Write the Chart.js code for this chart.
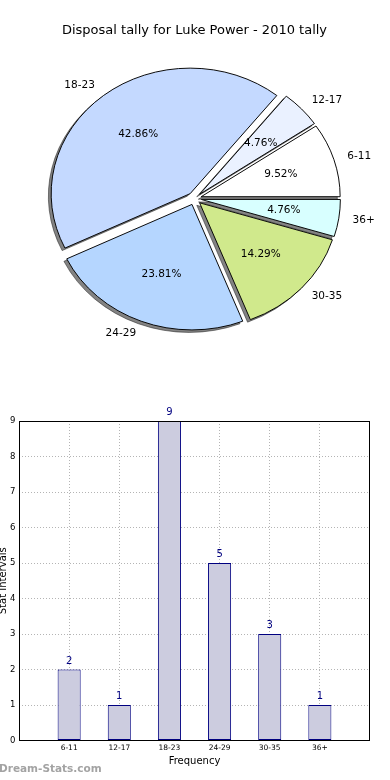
<!DOCTYPE html>
<html>
<head>
<meta charset="utf-8">
<title>Disposal tally for Luke Power - 2010 tally</title>
<script src="https://cdn.jsdelivr.net/npm/chart.js@4.4.1/dist/chart.umd.min.js"></script>
<style>
  html, body { margin: 0; padding: 0; background: #fff; }
  body { width: 390px; height: 780px; position: relative; overflow: hidden; }
  #pieWrap { position: absolute; left: 0; top: 0; width: 390px; height: 390px; }
  #barWrap { position: absolute; left: 0; top: 390px; width: 390px; height: 390px; }
  #mark { position: absolute; left: -1px; top: 762px; font: bold 10.5px "DejaVu Sans", sans-serif; color: #a3a3a3; }
</style>
</head>
<body>
<div id="pieWrap"><canvas id="pieChart" width="390" height="390"></canvas></div>
<div id="barWrap"><canvas id="barChart" width="390" height="390"></canvas></div>
<div id="mark">Dream-Stats.com</div>
<script>
// age groups and how many games fell in each
const categories = ['6-11', '12-17', '18-23', '24-29', '30-35', '36+'];
const tally = [2, 1, 9, 5, 3, 1];
const yTicks = [0, 1, 2, 3, 4, 5, 6, 7, 8, 9];

const sliceColors = ['#ffffff', '#eaf1ff', '#c4d9ff', '#b5d6ff', '#d0e98c', '#d8ffff'];

Chart.defaults.font.family = '"DejaVu Sans", sans-serif';
Chart.defaults.color = '#000';

const ELLIPSE = 0.903;  // pie was squashed, axes not equal
const EXPLODE = 0.05;   // every wedge pulled out by 5% of radius
const total = tally.reduce((a, b) => a + b, 0);

// matplotlib goes anticlockwise from east, chart.js clockwise -> reverse
const pieLabels = categories.slice().reverse();
const pieValues = tally.slice().reverse();
const pieColors = sliceColors.slice().reverse();

function wedgeTransform(ctx, arc) {
    const mid = (arc.startAngle + arc.endAngle) / 2;
    const d = arc.outerRadius * EXPLODE;
    ctx.translate(arc.x, arc.y);
    ctx.scale(1, ELLIPSE);
    ctx.translate(-arc.x, -arc.y);
    ctx.translate(Math.cos(mid) * d, Math.sin(mid) * d);
}

const piePlugin = {
    id: 'mplPie',
    beforeDatasetDraw(chart, args) {
        const ctx = chart.ctx;
        args.meta.data.forEach(arc => {
            ctx.save();
            wedgeTransform(ctx, arc);
            // shadow pass: wedge drawn far away, only its shadow lands here
            ctx.save();
            ctx.shadowColor = 'rgba(30,30,30,0.55)';
            ctx.shadowBlur = 0;
            ctx.shadowOffsetX = 20000 - 2.8;
            ctx.shadowOffsetY = 2.5;
            ctx.translate(-20000, 0);
            arc.draw(ctx);
            ctx.restore();
            arc.draw(ctx);
            ctx.restore();
        });
        return false;
    },
    afterDraw(chart) {
        const ctx = chart.ctx;
        const meta = chart.getDatasetMeta(0);
        ctx.save();
        ctx.font = '10.5px "DejaVu Sans", sans-serif';
        ctx.fillStyle = '#000';
        ctx.textBaseline = 'middle';
        meta.data.forEach((arc, i) => {
            const mid = (arc.startAngle + arc.endAngle) / 2;
            const r = arc.outerRadius;
            const c = Math.cos(mid), s = Math.sin(mid);
            const ox = r * EXPLODE * c, oy = r * EXPLODE * s;
            ctx.textAlign = c < 0 ? 'right' : 'left';
            ctx.fillText(chart.data.labels[i], arc.x + ox + 1.1 * r * c, arc.y + ELLIPSE * (oy + 1.1 * r * s));
            const pct = (pieValues[i] / total * 100).toFixed(2) + '%';
            ctx.textAlign = 'center';
            ctx.fillText(pct, arc.x + ox + 0.6 * r * c, arc.y + ELLIPSE * (oy + 0.6 * r * s));
        });
        ctx.restore();
    }
};

new Chart(document.getElementById('pieChart'), {
    type: 'pie',
    data: {
        labels: pieLabels,
        datasets: [{
            data: pieValues,
            backgroundColor: pieColors,
            borderColor: '#000',
            borderWidth: 1
        }]
    },
    options: {
        responsive: false,
        animation: false,
        rotation: 90,
        radius: 139,
        layout: { padding: { left: 0, right: 1, top: 0, bottom: 31 } },
        plugins: {
            legend: { display: false },
            tooltip: { enabled: false },
            title: {
                display: true,
                text: 'Disposal tally for Luke Power - 2010 tally',
                font: { size: 13, weight: 'normal' },
                color: '#000',
                padding: { top: 22.5, bottom: 0 }
            }
        }
    },
    plugins: [piePlugin]
});

const gridGray = '#b4b4b4';

const barPlugin = {
    id: 'barExtras',
    afterDraw(chart) {
        const ctx = chart.ctx;
        const a = chart.chartArea;
        ctx.save();
        ctx.strokeStyle = '#000';
        ctx.lineWidth = 1;
        ctx.strokeRect(Math.round(a.left) + 0.5, Math.round(a.top) + 0.5,
            Math.round(a.right - a.left) - 1, Math.round(a.bottom - a.top) - 1);
        ctx.font = '10px "DejaVu Sans", sans-serif';
        ctx.fillStyle = '#000080';
        ctx.textAlign = 'center';
        ctx.textBaseline = 'alphabetic';
        chart.getDatasetMeta(0).data.forEach((bar, i) => {
            ctx.fillText(String(tally[i]), bar.x, bar.y - 6);
        });
        ctx.restore();
    }
};

new Chart(document.getElementById('barChart'), {
    type: 'bar',
    data: {
        datasets: [{
            data: categories.map((c, i) => ({ x: i + 1, y: tally[i] })),
            backgroundColor: '#ccccdf',
            borderColor: '#000080',
            borderWidth: 1,
            borderSkipped: false,
            barPercentage: 0.46,
            categoryPercentage: 1
        }]
    },
    options: {
        responsive: false,
        animation: false,
        layout: { padding: { left: 0, right: 20, top: 31, bottom: 0 } },
        plugins: { legend: { display: false }, tooltip: { enabled: false } },
        scales: {
            x: {
                type: 'linear',
                min: 0,
                max: categories.length + 1,
                offset: false,
                z: 1,
                grid: {
                    offset: false,
                    drawTicks: false,
                    color: c => (c.tick.value === 0 || c.tick.value === categories.length + 1) ? 'rgba(0,0,0,0)' : gridGray
                },
                border: { display: false, dash: [1, 2] },
                ticks: {
                    stepSize: 1,
                    autoSkip: false,
                    maxRotation: 0,
                    padding: 3,
                    font: { size: 7.5 },
                    color: '#000',
                    callback: v => categories[v - 1] || ''
                },
                title: {
                    display: true,
                    text: 'Frequency',
                    font: { size: 10 },
                    color: '#000',
                    padding: { top: 0, bottom: 13 }
                },
                afterFit: s => { s.height = 39.5; }
            },
            y: {
                min: 0,
                max: yTicks[yTicks.length - 1],
                z: 1,
                grid: {
                    drawTicks: false,
                    color: c => (c.tick.value === 0 || c.tick.value === yTicks[yTicks.length - 1]) ? 'rgba(0,0,0,0)' : gridGray
                },
                border: { display: false, dash: [1, 2] },
                afterBuildTicks: s => { s.ticks = yTicks.map(v => ({ value: v })); },
                ticks: {
                    padding: 3.5,
                    font: { size: 8.5 },
                    color: '#000'
                },
                title: {
                    display: true,
                    text: 'Stat Intervals',
                    font: { size: 10 },
                    color: '#000',
                    padding: { top: -3, bottom: 0 }
                },
                afterFit: s => { s.width = 19; }
            }
        }
    },
    plugins: [barPlugin]
});
</script>
</body>
</html>
